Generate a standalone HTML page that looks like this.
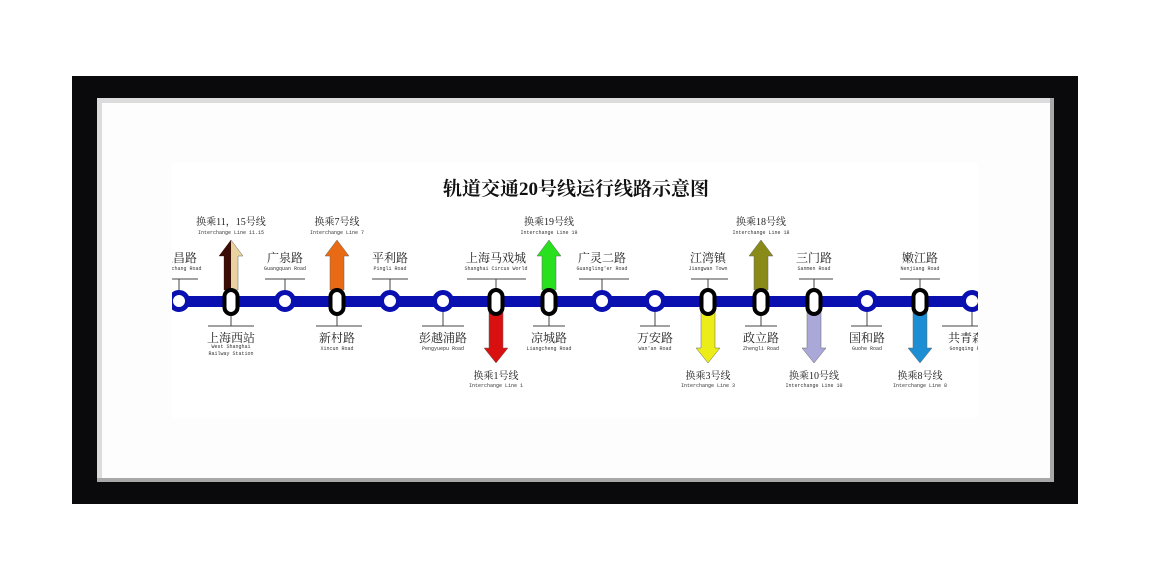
<!DOCTYPE html>
<html><head><meta charset="utf-8"><style>
html,body{margin:0;padding:0;background:#fff;width:1150px;height:580px;overflow:hidden}
svg{display:block}
.cn{font-family:"Liberation Serif","Noto Serif CJK SC",serif;font-size:12px;fill:#222}
.en{font-family:"Liberation Mono",monospace;font-size:5px;fill:#333}
.t{font-family:"Liberation Serif","Noto Serif CJK SC",serif;font-size:19px;font-weight:bold;fill:#111}
</style></head><body>
<svg width="1150" height="580" viewBox="0 0 1150 580">
<rect x="0" y="0" width="1150" height="580" fill="#fff"/>
<rect x="72" y="76" width="1006" height="428" fill="#0a0a0c"/>
<rect x="97" y="98" width="957" height="384" fill="#a8a8a8"/>
<rect x="97" y="98" width="953" height="380" fill="#dcdcdc"/>
<rect x="102" y="103" width="948" height="375" fill="#fdfdfd"/>
<rect x="172" y="163" width="806" height="255" fill="#fff"/>
<text class="t" x="576" y="195" text-anchor="middle">轨道交通20号线运行线路示意图</text>
<defs><clipPath id="c"><rect x="172" y="150" width="806" height="280"/></clipPath></defs>
<g clip-path="url(#c)">
<rect x="160" y="296" width="830" height="11" fill="#0a10b0"/>
<g stroke="#444" stroke-width="1">
<line x1="150" y1="279" x2="198" y2="279"/><line x1="179" y1="279" x2="179" y2="292"/>
<line x1="265" y1="279" x2="305" y2="279"/><line x1="285" y1="279" x2="285" y2="292"/>
<line x1="372" y1="279" x2="408" y2="279"/><line x1="390" y1="279" x2="390" y2="292"/>
<line x1="467" y1="279" x2="526" y2="279"/><line x1="496" y1="279" x2="496" y2="290"/>
<line x1="579" y1="279" x2="629" y2="279"/><line x1="602" y1="279" x2="602" y2="292"/>
<line x1="691" y1="279" x2="728" y2="279"/><line x1="708" y1="279" x2="708" y2="290"/>
<line x1="799" y1="279" x2="833" y2="279"/><line x1="814" y1="279" x2="814" y2="290"/>
<line x1="900" y1="279" x2="940" y2="279"/><line x1="920" y1="279" x2="920" y2="290"/>
<line x1="208" y1="326" x2="254" y2="326"/><line x1="231" y1="312" x2="231" y2="326"/>
<line x1="316" y1="326" x2="362" y2="326"/><line x1="337" y1="312" x2="337" y2="326"/>
<line x1="422" y1="326" x2="464" y2="326"/><line x1="443" y1="312" x2="443" y2="326"/>
<line x1="533" y1="326" x2="565" y2="326"/><line x1="549" y1="312" x2="549" y2="326"/>
<line x1="640" y1="326" x2="670" y2="326"/><line x1="655" y1="312" x2="655" y2="326"/>
<line x1="745" y1="326" x2="777" y2="326"/><line x1="761" y1="312" x2="761" y2="326"/>
<line x1="851" y1="326" x2="882" y2="326"/><line x1="867" y1="312" x2="867" y2="326"/>
<line x1="942" y1="326" x2="990" y2="326"/><line x1="972" y1="312" x2="972" y2="326"/>
</g>
<g class="cn" text-anchor="middle">
<text x="179" y="262">江昌路</text><text x="285" y="262">广泉路</text><text x="390" y="262">平利路</text>
<text x="496" y="262">上海马戏城</text><text x="602" y="262">广灵二路</text><text x="708" y="262">江湾镇</text>
<text x="814" y="262">三门路</text><text x="920" y="262">嫩江路</text>
<text x="231" y="342">上海西站</text><text x="337" y="342">新村路</text><text x="443" y="342">彭越浦路</text>
<text x="549" y="342">凉城路</text><text x="655" y="342">万安路</text><text x="761" y="342">政立路</text>
<text x="867" y="342">国和路</text><text x="972" y="342">共青森林</text>
</g>
<g class="en" text-anchor="middle">
<text x="179" y="270">Jiangchang Road</text><text x="285" y="270">Guangquan Road</text><text x="390" y="270">Pingli Road</text>
<text x="496" y="270">Shanghai Circus World</text><text x="602" y="270">Guangling'er Road</text><text x="708" y="270">Jiangwan Town</text>
<text x="814" y="270">Sanmen Road</text><text x="920" y="270">Nenjiang Road</text>
<text x="231" y="348">West Shanghai</text><text x="231" y="355">Railway Station</text>
<text x="337" y="350">Xincun Road</text><text x="443" y="350">Pengyuepu Road</text>
<text x="549" y="350">Liangcheng Road</text><text x="655" y="350">Wan'an Road</text><text x="761" y="350">Zhengli Road</text>
<text x="867" y="350">Guohe Road</text><text x="972" y="350">Gongqing Forest</text>
</g>
<polygon points="224,290 224,256 219,256 231,240 243,256 238,256 238,290" fill="#e8d3a0" stroke="#666" stroke-width="0.5"/>
<polygon points="224,290 224,256 219,256 231,240 231,290" fill="#3a0d06"/>
<polygon points="330,290 330,256 325,256 337,240 349,256 344,256 344,290" fill="#e86a14" stroke="#666" stroke-width="0.5"/>
<polygon points="542,290 542,256 537,256 549,240 561,256 556,256 556,290" fill="#28e01e" stroke="#666" stroke-width="0.5"/>
<polygon points="754,290 754,256 749,256 761,240 773,256 768,256 768,290" fill="#8a8a18" stroke="#666" stroke-width="0.5"/>
<polygon points="489,312 489,348 484,348 496,363 508,348 503,348 503,312" fill="#d81010" stroke="#666" stroke-width="0.5"/>
<polygon points="701,312 701,348 696,348 708,363 720,348 715,348 715,312" fill="#ecec18" stroke="#666" stroke-width="0.5"/>
<polygon points="807,312 807,348 802,348 814,363 826,348 821,348 821,312" fill="#aaa8d8" stroke="#666" stroke-width="0.5"/>
<polygon points="913,312 913,348 908,348 920,363 932,348 927,348 927,312" fill="#1e8ed4" stroke="#666" stroke-width="0.5"/>
<g class="cn" text-anchor="middle" style="font-size:10px">
<text x="231" y="225">换乘11，15号线</text><text x="337" y="225">换乘7号线</text>
<text x="549" y="225">换乘19号线</text><text x="761" y="225">换乘18号线</text>
<text x="496" y="379">换乘1号线</text><text x="708" y="379">换乘3号线</text>
<text x="814" y="379">换乘10号线</text><text x="920" y="379">换乘8号线</text>
</g>
<g class="en" text-anchor="middle">
<text x="231" y="234">Interchange Line 11.15</text><text x="337" y="234">Interchange Line 7</text>
<text x="549" y="234">Interchange Line 19</text><text x="761" y="234">Interchange Line 18</text>
<text x="496" y="387">Interchange Line 1</text><text x="708" y="387">Interchange Line 3</text>
<text x="814" y="387">Interchange Line 10</text><text x="920" y="387">Interchange Line 8</text>
</g>
<g fill="#fff" stroke="#0a10b0" stroke-width="5">
<circle cx="179" cy="301" r="8.5"/><circle cx="285" cy="301" r="8.5"/><circle cx="390" cy="301" r="8.5"/>
<circle cx="443" cy="301" r="8.5"/><circle cx="602" cy="301" r="8.5"/><circle cx="655" cy="301" r="8.5"/>
<circle cx="867" cy="301" r="8.5"/><circle cx="972" cy="301" r="8.5"/>
</g>
<g fill="#fff" stroke="#000" stroke-width="4">
<rect x="224.5" y="290" width="13" height="24" rx="6.5"/>
<rect x="330.5" y="290" width="13" height="24" rx="6.5"/>
<rect x="489.5" y="290" width="13" height="24" rx="6.5"/>
<rect x="542.5" y="290" width="13" height="24" rx="6.5"/>
<rect x="701.5" y="290" width="13" height="24" rx="6.5"/>
<rect x="754.5" y="290" width="13" height="24" rx="6.5"/>
<rect x="807.5" y="290" width="13" height="24" rx="6.5"/>
<rect x="913.5" y="290" width="13" height="24" rx="6.5"/>
</g>
</g>
</svg>
</body></html>
